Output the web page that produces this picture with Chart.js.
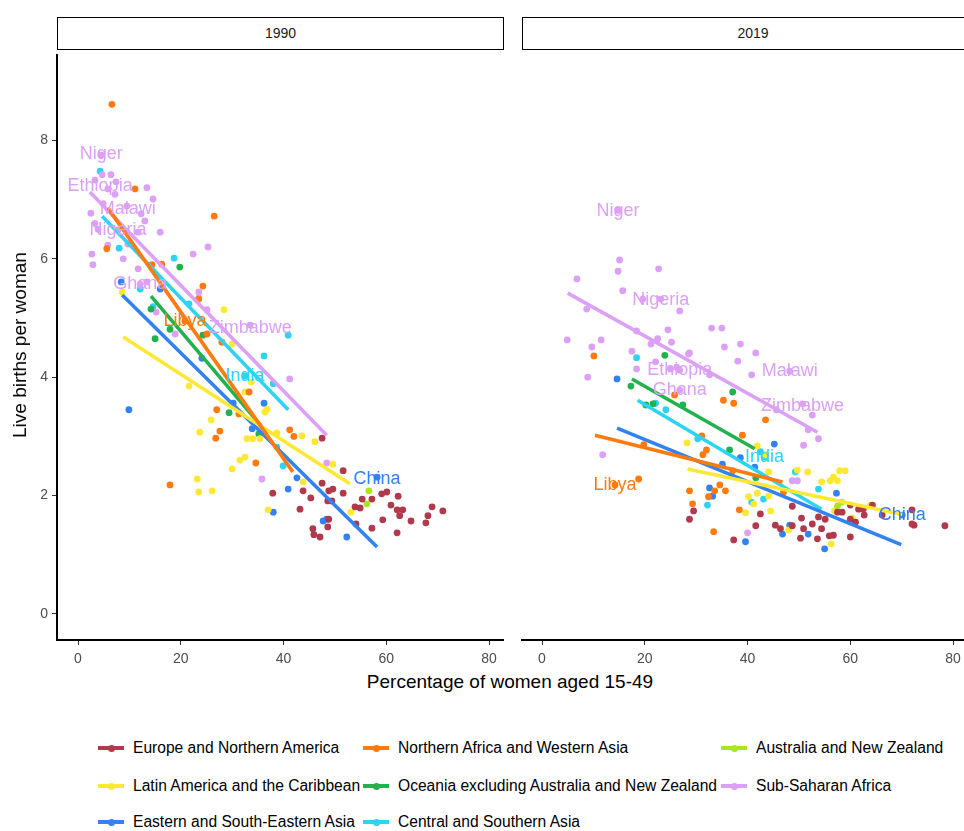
<!DOCTYPE html>
<html lang="en">
<head>
<meta charset="UTF-8">
<title>Fertility vs share of women 15-49</title>
<script src="https://cdn.jsdelivr.net/npm/chart.js"></script>
<style>
  body { margin: 0; width: 964px; height: 831px; overflow: hidden; position: relative; background: #fff; font-family: "Liberation Sans", Arial, sans-serif; }
  canvas { position: absolute; }
  .strip { position: absolute; top: 17px; height: 31px; border: 1.5px solid #000; background: #fff; text-align: center; line-height: 31px; font-size: 14px; color: #1a1a1a; box-sizing: content-box; }
  .ytitle { position: absolute; left: 20px; top: 345px; transform: translate(-50%, -50%) rotate(-90deg); font-size: 19px; white-space: nowrap; color: #000; }
  .xtitle { position: absolute; left: 510px; top: 682px; transform: translate(-50%, -50%); font-size: 19px; white-space: nowrap; color: #000; }
  .leg { position: absolute; font-size: 15.6px; white-space: nowrap; color: #000; line-height: 18px; }
  .key { position: absolute; width: 26px; height: 4px; }
  .key span { position: absolute; left: 9.5px; top: -1.5px; width: 7px; height: 7px; border-radius: 50%; }
</style>
</head>
<body>
<div class="strip" style="left:57px;width:445px;">1990</div>
<div class="strip" style="left:522px;width:460px;">2019</div>
<canvas id="c1990" width="504" height="616" style="left:0;top:54px;"></canvas>
<canvas id="c2019" width="447" height="616" style="left:521px;top:54px;"></canvas>
<div class="ytitle">Live births per woman</div>
<div class="xtitle">Percentage of women aged 15-49</div>
<div id="legend"></div>
<script>
// regions, in legend order
const regions = [
  'Europe and Northern America', 'Northern Africa and Western Asia', 'Australia and New Zealand',
  'Latin America and the Caribbean', 'Oceania excluding Australia and New Zealand', 'Sub-Saharan Africa',
  'Eastern and South-Eastern Asia', 'Central and Southern Asia'
];
const colors = ['#B0394C', '#FF7A0F', '#A9E61E', '#FFE833', '#20B24C', '#DCA0F6', '#3282F2', '#2FD3F2'];

const xTicks = [0, 20, 40, 60, 80];
const yTicks = [0, 2, 4, 6, 8];

// 1990: [percentage of women 15-49, live births per woman]
const europe1990 = [[47.5,2.97],[51.6,2.42],[47.5,2.21],[37.9,2.04],[43.8,2.08],[48.8,2.08],[49.6,2.11],[51.6,2.04],[45.3,1.96],[48.6,1.91],[49.4,1.91],[43.2,1.77],[53.9,1.81],[54.9,1.79],[55.3,1.94],[57.2,1.94],[59.1,2.03],[60.1,2.06],[62.3,1.99],[60.9,1.84],[62.1,1.76],[63.2,1.76],[62.6,1.66],[68.9,1.81],[71.0,1.74],[68.1,1.66],[67.7,1.54],[64.8,1.57],[59.3,1.59],[62.1,1.37],[57.2,1.45],[54.1,1.52],[48.8,1.60],[48.6,1.47],[45.7,1.44],[45.9,1.34],[47.1,1.30]];
const nafrica1990 = [[6.6,8.61],[11.1,7.18],[26.5,6.72],[5.6,6.17],[14.4,5.90],[16.3,5.91],[24.3,5.54],[23.5,5.32],[25.1,4.73],[28.0,4.59],[33.3,3.75],[27.6,3.09],[26.8,2.97],[34.6,2.55],[41.2,3.11],[42.0,3.00],[17.9,2.18],[31.3,3.38],[27.0,3.45],[20.8,4.95]];
const aus1990 = [[56.6,2.08],[56.2,1.86]];
const latin1990 = [[8.6,5.44],[28.4,5.14],[21.6,3.85],[30.0,4.56],[33.7,3.92],[32.5,3.75],[36.8,3.46],[36.4,3.41],[25.9,3.28],[23.7,3.07],[32.9,2.96],[34.0,2.96],[35.4,2.96],[38.7,3.06],[43.6,3.01],[46.1,2.91],[30.0,2.45],[31.5,2.60],[32.5,2.65],[23.2,2.28],[49.6,2.53],[23.5,2.06],[26.1,2.08],[43.8,2.23],[37.0,1.76],[53.1,1.72]];
const oceania1990 = [[19.8,5.86],[14.2,5.15],[15.0,4.65],[17.9,4.81],[24.3,4.71],[29.4,3.40],[35.2,3.04]];
const ssafrica1990 = [[4.5,7.75],[4.7,7.42],[6.4,7.42],[3.3,7.33],[7.4,7.30],[5.8,7.18],[7.2,7.09],[13.4,7.20],[14.6,7.01],[4.9,6.93],[2.5,6.77],[9.5,6.89],[12.3,6.76],[13.0,6.64],[3.3,6.60],[16.0,6.45],[3.9,6.50],[11.7,6.45],[5.8,6.23],[9.7,6.25],[25.3,6.20],[22.4,6.08],[2.7,6.08],[2.9,5.90],[8.8,6.00],[11.7,5.83],[13.4,5.61],[23.5,5.44],[23.5,5.34],[15.2,5.10],[18.9,4.73],[25.1,5.14],[33.5,4.88],[41.2,3.97],[35.8,2.28],[48.4,2.55],[7.8,6.49],[12.1,5.57]];
const easia1990 = [[8.4,5.61],[16.0,5.49],[9.9,3.45],[36.2,3.56],[33.9,3.13],[30.2,3.56],[42.6,2.30],[40.9,2.11],[38.0,1.72],[47.7,1.57],[48.4,1.60],[52.3,1.30],[24.1,4.32],[58.2,2.31]];
const csasia1990 = [[4.3,7.48],[8.0,6.18],[18.7,6.01],[12.1,5.49],[21.6,5.24],[14.6,5.19],[40.9,4.71],[36.2,4.36],[39.9,2.50],[38.7,2.82],[38.0,3.89],[32.5,4.02]];

// 2019
const europe2019 = [[29.5,1.74],[28.7,1.60],[42.5,1.69],[41.6,1.49],[45.4,1.50],[46.4,1.44],[37.3,1.25],[48.7,1.82],[48.7,1.49],[50.5,1.62],[50.9,1.44],[50.3,1.28],[52.6,1.52],[54.4,1.44],[53.6,1.27],[55.9,1.32],[56.7,1.33],[60.0,1.30],[53.8,1.64],[55.1,1.60],[57.5,1.72],[58.4,1.72],[60.0,1.60],[61.0,1.55],[60.0,1.84],[61.6,1.77],[62.5,1.77],[62.7,1.67],[64.3,1.84],[66.2,1.67],[72.0,1.76],[72.0,1.52],[72.4,1.50],[78.4,1.49]];
const nafrica2019 = [[10.1,4.36],[25.8,3.70],[35.3,3.61],[37.3,3.56],[43.5,3.28],[39.0,3.02],[32.0,2.77],[31.3,2.69],[18.8,2.28],[28.7,2.08],[29.3,1.86],[33.6,2.08],[35.7,2.08],[32.4,1.98],[33.4,1.39],[38.4,1.76],[37.1,2.42],[19.8,2.86],[31.1,3.01],[34.6,2.18],[47.0,2.06],[14.2,2.18]];
const aus2019 = [[57.5,1.82],[58.3,1.89]];
const latin2019 = [[28.2,2.89],[41.9,2.84],[43.5,2.69],[44.1,2.40],[40.2,1.98],[41.2,1.86],[44.5,1.74],[39.6,1.71],[44.1,1.99],[41.9,2.04],[49.7,2.43],[51.7,2.40],[48.0,1.42],[57.9,2.42],[59.0,2.42],[56.1,2.25],[57.5,2.25],[56.7,2.31],[54.4,2.23],[56.9,1.74],[60.4,1.62],[56.3,1.18],[63.9,1.84]];
const oceania2019 = [[23.9,4.37],[17.3,3.85],[37.1,3.75],[20.2,3.53],[21.6,3.55],[27.4,3.53],[36.5,2.77],[41.6,2.30]];
const ssafrica2019 = [[14.8,6.82],[15.1,5.98],[14.8,5.79],[22.7,5.83],[6.8,5.66],[15.7,5.46],[19.6,5.32],[23.1,5.32],[26.8,5.12],[8.7,5.15],[18.4,4.78],[24.5,4.80],[22.5,4.65],[21.2,4.56],[25.2,4.59],[28.5,4.39],[33.0,4.83],[35.0,4.83],[35.5,4.51],[38.6,4.56],[4.9,4.63],[11.5,4.63],[9.7,4.51],[17.5,4.44],[18.4,4.14],[22.1,4.26],[26.2,4.17],[38.1,4.27],[8.9,4.00],[32.6,4.04],[41.6,4.41],[40.8,4.04],[28.7,4.41],[25.0,4.14],[11.8,2.69],[40.0,1.37],[45.6,3.45],[52.6,3.36],[51.8,3.11],[53.8,2.96],[50.9,2.85],[48.7,2.25],[49.7,2.25],[50.7,3.55],[48.2,4.10],[26.8,3.78],[26.8,4.12]];
const easia2019 = [[14.6,3.97],[45.2,2.87],[38.6,2.64],[35.1,2.53],[41.4,2.48],[32.6,2.13],[33.2,1.99],[39.6,1.22],[46.8,1.35],[48.2,1.50],[57.3,2.04],[51.8,1.35],[55.0,1.10],[70.1,1.67]];
const csasia2019 = [[18.4,4.33],[22.1,3.56],[24.1,3.45],[30.3,2.96],[42.5,2.74],[32.2,1.84],[40.8,1.89],[43.1,1.94],[49.3,2.40],[53.8,2.11],[43.3,2.65]];

// linear fits per region: [xStart, yStart, xEnd, yEnd], null = no line
const fits1990 = [null, [5.8,6.86,41.8,2.40], null, [8.8,4.68,52.9,2.20], [14.2,5.37,35.8,3.16], [2.3,7.13,48.4,3.02], [8.6,5.39,58.2,1.13], [4.7,6.72,40.9,3.45]];
const fits2019 = [null, [10.3,3.02,46.8,2.23], null, [28.3,2.45,70.1,1.68], [17.5,3.97,41.4,2.79], [5.0,5.42,53.6,3.07], [14.6,3.14,69.9,1.17], [18.6,3.61,54.4,1.77]];

// labelled countries: [name, region index, x, y]
const labels1990 = [['Niger',5,4.5,7.77],['Ethiopia',5,4.3,7.23],['Malawi',5,9.7,6.84],['Nigeria',5,7.8,6.49],['Ghana',5,12.1,5.57],['Libya',1,20.8,4.95],['Zimbabwe',5,33.5,4.83],['India',7,32.5,4.02],['China',6,58.2,2.28]];
const labels2019 = [['Niger',5,14.8,6.81],['Nigeria',5,23.1,5.30],['Ethiopia',5,26.8,4.12],['Ghana',5,26.8,3.78],['Malawi',5,48.2,4.10],['Zimbabwe',5,50.7,3.51],['Libya',1,14.2,2.18],['India',7,43.3,2.65],['China',6,70.1,1.67]];

const points1990 = [europe1990, nafrica1990, aus1990, latin1990, oceania1990, ssafrica1990, easia1990, csasia1990];
const points2019 = [europe2019, nafrica2019, aus2019, latin2019, oceania2019, ssafrica2019, easia2019, csasia2019];

const FONT = '"Liberation Sans", Arial, sans-serif';

const countryLabels = {
  id: 'countryLabels',
  afterDatasetsDraw(chart, args, opts) {
    const ctx = chart.ctx;
    const xs = chart.scales.x, ys = chart.scales.y;
    ctx.save();
    ctx.font = '18px ' + FONT;
    ctx.textAlign = 'center';
    ctx.textBaseline = 'middle';
    opts.items.forEach(([name, r, x, y]) => {
      ctx.fillStyle = colors[r];
      ctx.fillText(name, xs.getPixelForValue(x), ys.getPixelForValue(y));
    });
    ctx.restore();
  }
};

function makeChart(id, pts, fits, labels, showY) {
  const datasets = [];
  pts.forEach((arr, i) => {
    datasets.push({
      type: 'scatter',
      data: arr.map(p => ({x: p[0], y: p[1]})),
      backgroundColor: colors[i],
      borderWidth: 0,
      pointRadius: 3.4,
      order: 2
    });
  });
  fits.forEach((f, i) => {
    if (!f) return;
    datasets.push({
      type: 'line',
      data: [{x: f[0], y: f[1]}, {x: f[2], y: f[3]}],
      borderColor: colors[i],
      borderWidth: 3.6,
      pointRadius: 0,
      order: 1
    });
  });
  return new Chart(document.getElementById(id), {
    type: 'scatter',
    data: {datasets},
    options: {
      responsive: false,
      animation: false,
      layout: {padding: 0, autoPadding: false},
      plugins: {legend: {display: false}, tooltip: {enabled: false}, countryLabels: {items: labels}},
      scales: {
        x: {
          type: 'linear', min: -4.09, max: 82.9,
          afterBuildTicks: s => { s.ticks = xTicks.map(v => ({value: v})); },
          afterFit: s => { s.height = 30; s.paddingLeft = 0; s.paddingRight = 0; },
          grid: {drawOnChartArea: false, tickLength: 5, color: '#333', lineWidth: 1},
          border: {display: true, color: '#000', width: 2},
          ticks: {font: {family: FONT, size: 14}, color: '#4d4d4d', padding: 6}
        },
        y: {
          type: 'linear', min: -0.44, max: 9.46, display: showY,
          afterBuildTicks: s => { s.ticks = yTicks.map(v => ({value: v})); },
          afterFit: s => { if (showY) s.width = 57; s.paddingTop = 0; s.paddingBottom = 0; },
          grid: {drawOnChartArea: false, tickLength: 5, color: '#333', lineWidth: 1},
          border: {display: true, color: '#000', width: 2},
          ticks: {font: {family: FONT, size: 14}, color: '#4d4d4d', padding: 4}
        }
      }
    },
    plugins: [countryLabels]
  });
}

makeChart('c1990', points1990, fits1990, labels1990, true);
makeChart('c2019', points2019, fits2019, labels2019, false);

// legend: 3 columns, row-major
const legCols = [98, 363, 721];
const legRows = [748, 786, 822];
const legend = document.getElementById('legend');
regions.forEach((name, i) => {
  const left = legCols[i % 3], top = legRows[Math.floor(i / 3)];
  const key = document.createElement('div');
  key.className = 'key';
  key.style.left = left + 'px';
  key.style.top = (top - 2) + 'px';
  key.style.background = colors[i];
  const dot = document.createElement('span');
  dot.style.background = colors[i];
  key.appendChild(dot);
  legend.appendChild(key);
  const txt = document.createElement('div');
  txt.className = 'leg';
  txt.style.left = (left + 35) + 'px';
  txt.style.top = (top - 9) + 'px';
  txt.textContent = name;
  legend.appendChild(txt);
});
</script>
</body>
</html>
